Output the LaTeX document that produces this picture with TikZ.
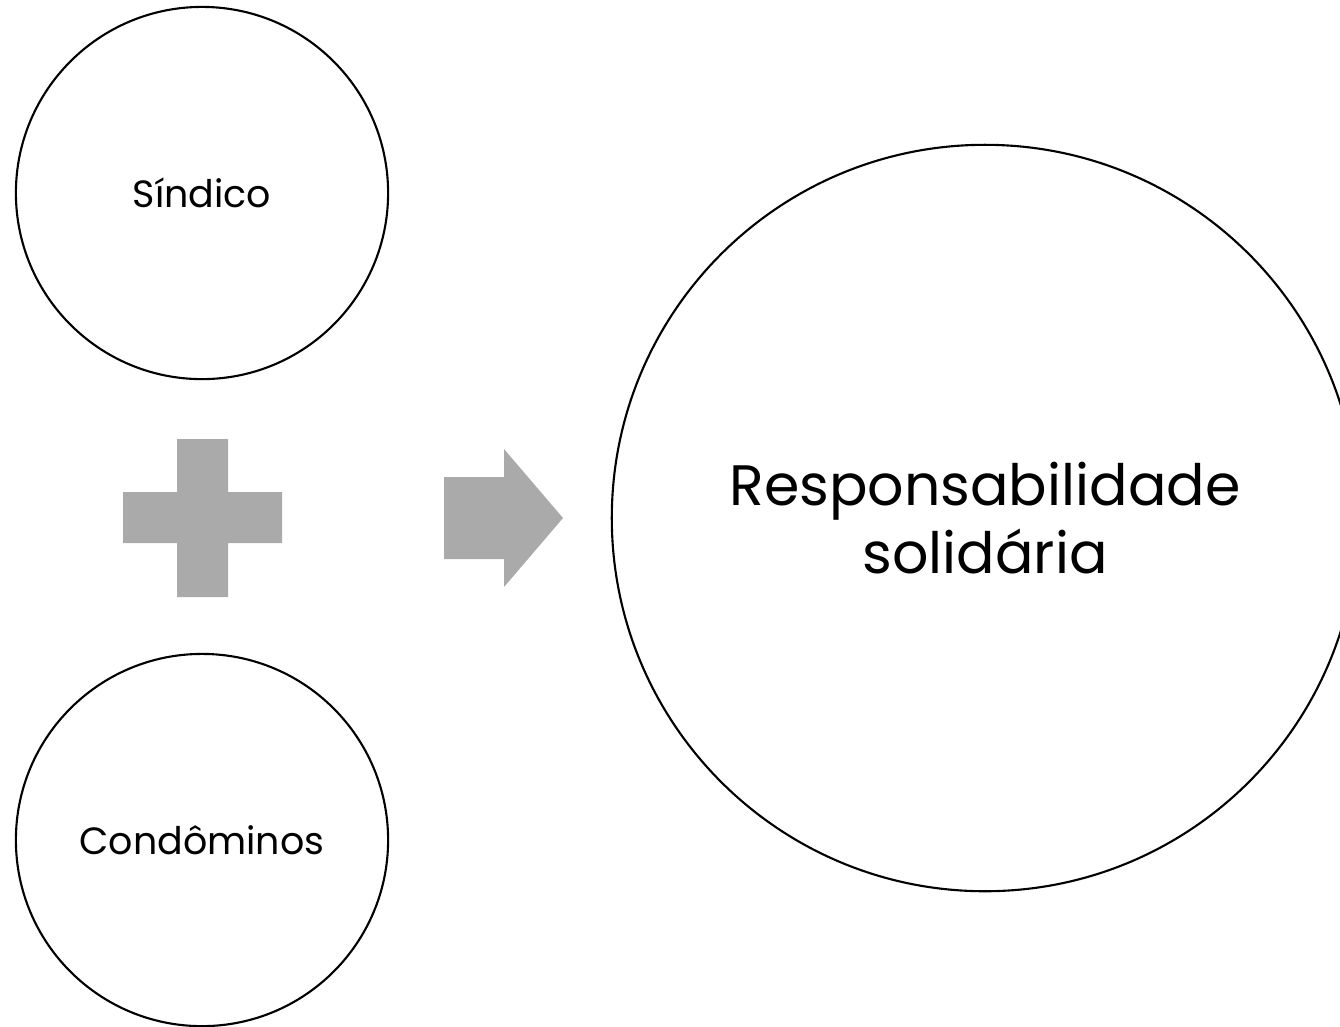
\documentclass[tikz,border=0pt]{standalone}
\usepackage{fontspec}
\setmainfont{Poppins}
\usepackage{tikz}
\usetikzlibrary{positioning}
\definecolor{sgray}{RGB}{170,170,170}
\tikzstyle{party} = [circle, draw=black, line width=0.6pt, minimum size=3.72cm, inner sep=0pt, text centered, font=\fontsize{10.8}{13}\selectfont]
\tikzstyle{result} = [circle, draw=black, line width=0.6pt, minimum size=7.46cm, inner sep=0pt, align=center, font=\fontsize{16.2}{19.5}\selectfont]
\tikzstyle{sign} = [fill=sgray, draw=none]

\begin{document}
\begin{tikzpicture}[x=0.01cm, y=-0.01cm]
\useasboundingbox (0,0) rectangle (1340,1026);

% Parties
\node (sindico) [party] at (202,193) {Síndico};
\node (condominos) [party] at (202,840) {Condôminos};

% Result
\node (resp) [result] at (985,518) {Responsabilidade\\solidária};

% Plus sign
\fill[sign] (123,492) -- (177,492) -- (177,439) -- (228,439) -- (228,492) -- (282,492)
  -- (282,543) -- (228,543) -- (228,597) -- (177,597) -- (177,543) -- (123,543) -- cycle;

% Arrow
\fill[sign] (444,477) -- (504,477) -- (504,449) -- (563,518) -- (504,587) -- (504,559)
  -- (444,559) -- cycle;
\end{tikzpicture}
\end{document}
